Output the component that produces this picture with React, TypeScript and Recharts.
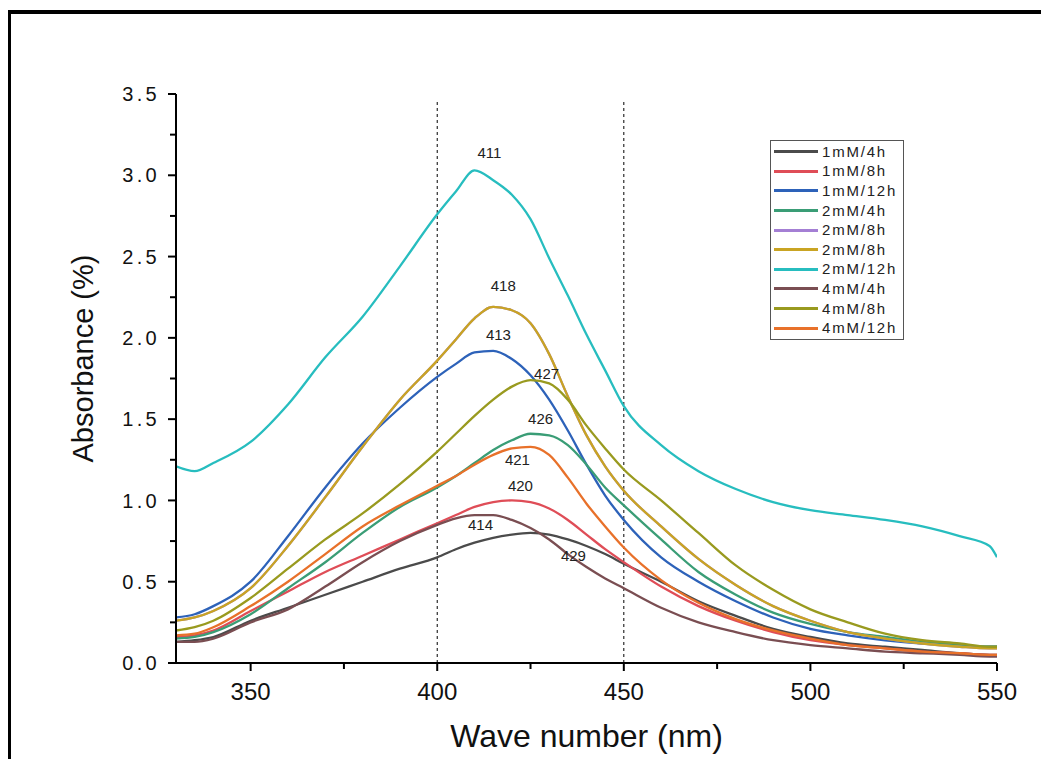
import React from 'react';
import { LineChart, Line, XAxis, YAxis, ReferenceLine, ReferenceDot, Legend } from 'recharts';

const wavelengths = [330, 335, 340, 350, 360, 370, 380, 390, 400, 405, 410, 415, 420, 425, 430, 435, 440, 445, 450, 460, 470, 480, 490, 500, 510, 520, 530, 540, 548, 550];

const s1mM4h = [0.13, 0.14, 0.16, 0.26, 0.34, 0.42, 0.50, 0.58, 0.65, 0.70, 0.74, 0.77, 0.79, 0.80, 0.79, 0.76, 0.72, 0.67, 0.61, 0.50, 0.38, 0.29, 0.21, 0.16, 0.12, 0.10, 0.08, 0.06, 0.05, 0.05];
const s1mM8h = [0.16, 0.17, 0.20, 0.32, 0.44, 0.56, 0.66, 0.76, 0.86, 0.91, 0.96, 0.99, 1.00, 0.99, 0.95, 0.88, 0.79, 0.70, 0.62, 0.47, 0.35, 0.26, 0.19, 0.14, 0.11, 0.09, 0.07, 0.06, 0.05, 0.05];
const s1mM12h = [0.28, 0.30, 0.35, 0.50, 0.78, 1.08, 1.35, 1.57, 1.76, 1.84, 1.91, 1.92, 1.87, 1.77, 1.62, 1.43, 1.22, 1.03, 0.88, 0.65, 0.50, 0.38, 0.28, 0.21, 0.17, 0.14, 0.12, 0.11, 0.10, 0.10];
const s2mM4h = [0.15, 0.16, 0.19, 0.30, 0.46, 0.62, 0.80, 0.96, 1.08, 1.15, 1.23, 1.31, 1.37, 1.41, 1.40, 1.34, 1.22, 1.08, 0.97, 0.76, 0.56, 0.42, 0.31, 0.24, 0.19, 0.16, 0.13, 0.11, 0.10, 0.10];
const s2mM8hA = [0.26, 0.28, 0.32, 0.46, 0.72, 1.02, 1.33, 1.62, 1.86, 1.99, 2.12, 2.19, 2.17, 2.09, 1.90, 1.64, 1.40, 1.21, 1.06, 0.84, 0.64, 0.48, 0.35, 0.26, 0.19, 0.15, 0.12, 0.10, 0.09, 0.09];
const s2mM8hB = [0.26, 0.28, 0.32, 0.46, 0.72, 1.02, 1.33, 1.62, 1.86, 1.99, 2.12, 2.19, 2.17, 2.09, 1.90, 1.64, 1.40, 1.21, 1.06, 0.84, 0.64, 0.48, 0.35, 0.26, 0.19, 0.15, 0.12, 0.10, 0.09, 0.09];
const s2mM12h = [1.21, 1.18, 1.23, 1.36, 1.59, 1.88, 2.13, 2.44, 2.76, 2.90, 3.03, 2.97, 2.88, 2.73, 2.49, 2.26, 2.02, 1.80, 1.58, 1.34, 1.18, 1.07, 0.99, 0.94, 0.91, 0.88, 0.84, 0.78, 0.72, 0.65];
const s4mM4h = [0.13, 0.13, 0.15, 0.25, 0.33, 0.47, 0.62, 0.75, 0.85, 0.89, 0.91, 0.91, 0.88, 0.83, 0.76, 0.67, 0.59, 0.52, 0.46, 0.34, 0.25, 0.19, 0.14, 0.11, 0.09, 0.07, 0.06, 0.05, 0.04, 0.04];
const s4mM8h = [0.20, 0.22, 0.26, 0.40, 0.58, 0.76, 0.92, 1.10, 1.30, 1.41, 1.52, 1.62, 1.70, 1.74, 1.72, 1.62, 1.46, 1.32, 1.19, 1.00, 0.80, 0.60, 0.45, 0.33, 0.25, 0.18, 0.14, 0.12, 0.10, 0.10];
const s4mM12h = [0.17, 0.18, 0.22, 0.35, 0.50, 0.67, 0.84, 0.97, 1.09, 1.15, 1.22, 1.28, 1.32, 1.33, 1.28, 1.14, 0.98, 0.84, 0.71, 0.51, 0.37, 0.27, 0.20, 0.15, 0.11, 0.09, 0.07, 0.06, 0.05, 0.05];

const seriesNames = ['1mM/4h', '1mM/8h', '1mM/12h', '2mM/4h', '2mM/8h', '2mM/8h', '2mM/12h', '4mM/4h', '4mM/8h', '4mM/12h'];
const seriesValues = [s1mM4h, s1mM8h, s1mM12h, s2mM4h, s2mM8hA, s2mM8hB, s2mM12h, s4mM4h, s4mM8h, s4mM12h];
const seriesColors = ['#4b4b4b', '#df4d57', '#2d62b9', '#3a9d76', '#a47fd4', '#c9a423', '#27bdbf', '#7a4e52', '#999a1f', '#e8712a'];

const peakLabels = ['411', '418', '413', '427', '426', '421', '420', '414', '429'];
const peakLabelX = [414, 417.7, 416.4, 429.3, 427.7, 421.5, 422.3, 411.6, 436.5];
const peakLabelY = [3.14, 2.32, 2.02, 1.78, 1.5, 1.25, 1.09, 0.85, 0.66];

const xTicks = [350, 375, 400, 425, 450, 475, 500, 525, 550];
const yTicks = [0, 0.25, 0.5, 0.75, 1, 1.25, 1.5, 1.75, 2, 2.25, 2.5, 2.75, 3, 3.25, 3.5];
const guideLines = [400, 450];

const data = wavelengths.map((w, i) => {
  const row: Record<string, number> = { w };
  seriesValues.forEach((arr, k) => {
    row['s' + k] = arr[i];
  });
  return row;
});

const FONT = '"Liberation Sans", Arial, sans-serif';

const XTick = (props: any) => {
  const { x, y, payload } = props;
  const v = payload.value as number;
  const major = v % 50 === 0;
  return (
    <g>
      <line x1={x} x2={x} y1={y} y2={y + (major ? 8 : 6)} stroke="#000" strokeWidth={2} />
      {major && (
        <text x={x} y={y + 37} textAnchor="middle" fontFamily={FONT} fontSize={24} fill="#111">
          {v}
        </text>
      )}
    </g>
  );
};

const YTick = (props: any) => {
  const { x, y, payload } = props;
  const v = payload.value as number;
  const major = Math.abs(v * 2 - Math.round(v * 2)) < 1e-6;
  return (
    <g>
      <line x1={x - (major ? 8 : 6)} x2={x} y1={y} y2={y} stroke="#000" strokeWidth={2} />
      {major && (
        <text x={x - 16} y={y} dy="0.36em" textAnchor="end" fontFamily={FONT} fontSize={20} letterSpacing={3.3} fill="#111">
          {v.toFixed(1)}
        </text>
      )}
    </g>
  );
};

const YTitle = (props: any) => {
  const vb = props.viewBox || { x: 55, y: 80, width: 110, height: 569 };
  const cx = vb.x + 17;
  const cy = vb.y + vb.height / 2 - 20;
  return (
    <text
      x={cx}
      y={cy}
      transform={`rotate(-90 ${cx} ${cy})`}
      textAnchor="middle"
      dominantBaseline="central"
      fontFamily={FONT}
      fontSize={29}
      fill="#111"
    >
      Absorbance (%)
    </text>
  );
};

const renderLegend = () => (
  <div
    style={{
      border: '1.5px solid #555',
      background: '#fff',
      width: 134,
      padding: '1px 0',
      fontFamily: FONT,
      boxSizing: 'border-box',
    }}
  >
    {seriesNames.map((n, i) => (
      <div key={i} style={{ display: 'flex', alignItems: 'center', height: 19.6 }}>
        <div style={{ width: 44, height: 3, background: seriesColors[i], marginLeft: 3, marginRight: 4 }} />
        <span style={{ fontSize: 15, letterSpacing: 1.8, color: '#222', lineHeight: '16px' }}>{n}</span>
      </div>
    ))}
  </div>
);

export default function App() {
  return (
    <div
      style={{
        position: 'absolute',
        left: 8,
        top: 10,
        borderTop: '4px solid #000',
        borderLeft: '3px solid #000',
        width: 1030,
        height: 745,
        background: '#fff',
      }}
    >
      <LineChart
        width={1030}
        height={745}
        data={data}
        margin={{ top: 80, right: 44, bottom: 6, left: 55 }}
      >
        <XAxis
          type="number"
          dataKey="w"
          domain={[330, 550]}
          ticks={xTicks}
          allowDataOverflow
          height={90}
          tickSize={0}
          tickMargin={0}
          tickLine={false}
          tick={<XTick />}
          axisLine={{ stroke: '#000', strokeWidth: 2 }}
          label={{ value: 'Wave number (nm)', position: 'insideBottom', offset: 6, fontSize: 32, fontFamily: FONT, fill: '#111' }}
        />
        <YAxis
          type="number"
          domain={[0, 3.5]}
          ticks={yTicks}
          allowDataOverflow
          width={110}
          tickSize={0}
          tickMargin={0}
          tickLine={false}
          tick={<YTick />}
          axisLine={{ stroke: '#000', strokeWidth: 2 }}
          label={<YTitle />}
        />
        {guideLines.map((g) => (
          <ReferenceLine
            key={g}
            segment={[{ x: g, y: 0 }, { x: g, y: 3.46 }]}
            stroke="#000"
            strokeWidth={1}
            strokeDasharray="3 3"
          />
        ))}
        {seriesNames.map((n, k) => (
          <Line
            key={k}
            type="monotone"
            dataKey={'s' + k}
            name={n}
            stroke={seriesColors[k]}
            strokeWidth={2.3}
            dot={false}
            isAnimationActive={false}
          />
        ))}
        {peakLabels.map((p, i) => (
          <ReferenceDot
            key={p}
            x={peakLabelX[i]}
            y={peakLabelY[i]}
            r={0}
            stroke="none"
            fill="none"
            label={{ value: p, position: 'center', fontSize: 15, fontFamily: FONT, fill: '#222' }}
          />
        ))}
        <Legend
          layout="vertical"
          align="center"
          verticalAlign="middle"
          content={renderLegend}
          wrapperStyle={{ left: 759, top: 126, width: 136, height: 200 }}
        />
      </LineChart>
    </div>
  );
}
